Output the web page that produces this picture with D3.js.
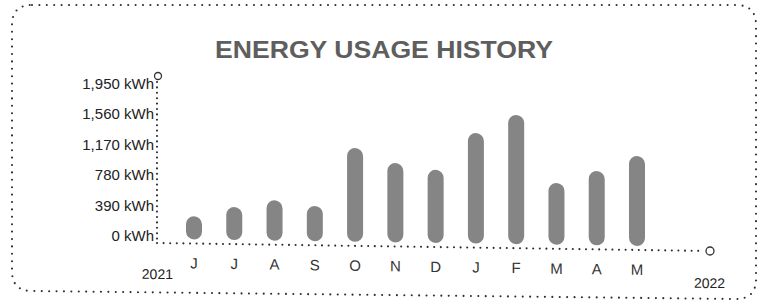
<!DOCTYPE html>
<html>
<head>
<meta charset="utf-8">
<script src="https://cdn.jsdelivr.net/npm/d3@7"></script>
<style>
  body { margin: 0; background: #fff; }
  text { font-family: "Liberation Sans", Arial, sans-serif; }
</style>
</head>
<body>
<div id="chart"></div>
<script>
var w = 761,
	h = 305;

// months (Jun 2021 .. May 2022) and usage in kWh
var months = ["Jun", "Jul", "Aug", "Sep", "Oct", "Nov", "Dec", "Jan", "Feb", "Mar", "Apr", "May"];
var usage = [350, 475, 570, 505, 1255, 1070, 990, 1470, 1710, 845, 1005, 1205];
var yTicks = [0, 390, 780, 1170, 1560, 1950];
var years = ["2021", "2022"];

var x0 = 157, base = 243;
// the scanned page runs slightly downhill to the right
var tilt = 0.83;

var svg = d3.select("#chart").append("svg")
	.attr("width", w)
	.attr("height", h);

//dotted rounded frame
var dot = function(sel, gap) {
	return sel.attr("fill", "none")
		.attr("stroke", "#2e2e2e")
		.attr("stroke-width", 2.1)
		.attr("stroke-linecap", "round")
		.attr("stroke-dasharray", "0 " + gap);
};

dot(svg.append("path")
	.attr("d", "M32,5 L736,5 Q756,5 756,25 L756,279 Q756,299 736,299 L32,291 Q12,291 12,271 L12,25 Q12,5 32,5 Z"), 7.4);

//title
svg.append("text")
	.attr("x", 384)
	.attr("y", 58)
	.attr("text-anchor", "middle")
	.attr("font-size", "23px")
	.attr("font-weight", "bold")
	.attr("fill", "#5e5e5e")
	.attr("textLength", 338)
	.attr("lengthAdjust", "spacingAndGlyphs")
	.text("ENERGY USAGE HISTORY");

var y = d3.scaleLinear()
	.domain([0, 1950])
	.range([base, 91]);

var x = d3.scalePoint()
	.domain(d3.range(months.length))
	.range([194, 637]);

//y axis
dot(svg.append("line")
	.attr("x1", x0).attr("x2", x0)
	.attr("y1", 82).attr("y2", base), 5.4);

svg.append("circle")
	.attr("cx", x0 + 1)
	.attr("cy", 76)
	.attr("r", 3.5)
	.attr("fill", "#fff")
	.attr("stroke", "#333")
	.attr("stroke-width", 1.3);

svg.selectAll(".ylab")
	.data(yTicks)
	.enter()
	.append("text")
	.attr("class", "ylab")
	.attr("x", x0 - 3)
	.attr("y", function(d) { return y(d) - 2; })
	.attr("text-anchor", "end")
	.attr("font-size", "15px")
	.attr("fill", "#222")
	.text(function(d) { return d3.format(",")(d) + " kWh"; });

//plot area, tilted like the scan
var g = svg.append("g")
	.attr("transform", "translate(" + x0 + "," + base + ") skewY(" + tilt + ") translate(" + (-x0) + "," + (-base) + ")");

dot(g.append("line")
	.attr("x1", x0).attr("x2", 703)
	.attr("y1", base).attr("y2", base), 6.6);

g.append("circle")
	.attr("cx", 710)
	.attr("cy", base)
	.attr("r", 4)
	.attr("fill", "#fff")
	.attr("stroke", "#333")
	.attr("stroke-width", 1.3);

g.selectAll(".bar")
	.data(usage)
	.enter()
	.append("rect")
	.attr("class", "bar")
	.attr("x", function(d, i) { return x(i) - 8; })
	.attr("y", function(d) { return y(d); })
	.attr("width", 16)
	.attr("height", function(d) { return y(0) - 4 - y(d); })
	.attr("rx", 8)
	.attr("fill", "#858585");

g.selectAll(".mlab")
	.data(months)
	.enter()
	.append("text")
	.attr("class", "mlab")
	.attr("x", function(d, i) { return x(i); })
	.attr("y", base + 25)
	.attr("text-anchor", "middle")
	.attr("font-size", "15px")
	.attr("fill", "#333")
	.text(function(d) { return d.charAt(0); });

g.append("text")
	.attr("x", 173)
	.attr("y", 279)
	.attr("text-anchor", "end")
	.attr("font-size", "14px")
	.attr("fill", "#222")
	.text(years[0]);

g.append("text")
	.attr("x", 694)
	.attr("y", 280)
	.attr("font-size", "14px")
	.attr("fill", "#222")
	.text(years[1]);
</script>
</body>
</html>
